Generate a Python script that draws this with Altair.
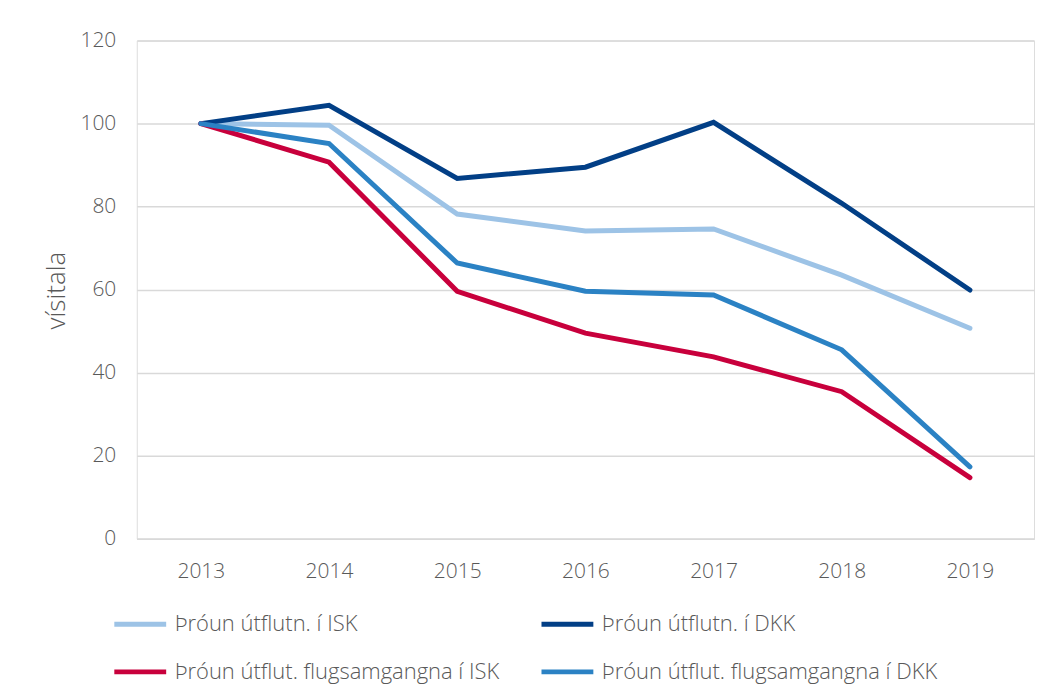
import altair as alt
import pandas as pd

years = ["2013", "2014", "2015", "2016", "2017", "2018", "2019"]
series_names = [
    "Þróun útflutn. í ISK",
    "Þróun útflutn. í DKK",
    "Þróun útflut. flugsamgangna í ISK",
    "Þróun útflut. flugsamgangna í DKK",
]
isk = [100, 99.6, 78.2, 74.1, 74.6, 63.5, 50.7]
dkk = [100, 104.4, 86.8, 89.5, 100.3, 80.8, 59.9]
flug_isk = [100, 90.7, 59.6, 49.5, 43.8, 35.4, 14.7]
flug_dkk = [100, 95.2, 66.4, 59.6, 58.7, 45.5, 17.3]
colors = ["#9DC3E6", "#023F86", "#C8003C", "#2B82C4"]

rows = []
for name, vals in zip(series_names, [isk, dkk, flug_isk, flug_dkk]):
    for i, (y, v) in enumerate(zip(years, vals)):
        rows.append({"year": y, "value": v, "series": name, "order": i})
df = pd.DataFrame(rows)

FONT = "Open Sans"
GRAY = "#595959"

chart = (
    alt.Chart(df)
    .mark_line(strokeWidth=5, strokeCap="round", strokeJoin="miter")
    .encode(
        x=alt.X(
            "year:O",
            title=None,
            sort=years,
            scale=alt.Scale(type="point", padding=0.5),
            axis=alt.Axis(
                labelAngle=0,
                ticks=False,
                domain=True,
                domainColor="#D9D9D9",
                domainWidth=1.5,
                labelPadding=22,
                labelFontSize=21,
                labelColor=GRAY,
                labelFont=FONT,
                labelFontWeight=300,
            ),
        ),
        y=alt.Y(
            "value:Q",
            title="vísitala",
            scale=alt.Scale(domain=[0, 120], nice=False),
            axis=alt.Axis(
                values=[0, 20, 40, 60, 80, 100, 120],
                ticks=False,
                domain=False,
                grid=True,
                gridColor="#D9D9D9",
                gridWidth=1.5,
                labelPadding=21,
                labelFontSize=21,
                labelColor=GRAY,
                labelFont=FONT,
                labelFontWeight=300,
                titleFontSize=26,
                titleColor=GRAY,
                titleFont=FONT,
                titleFontWeight=300,
                titleX=-80,
                titleY=250,
                titleAngle=270,
                titleBaseline="middle",
            ),
        ),
        color=alt.Color(
            "series:N",
            sort=series_names,
            scale=alt.Scale(domain=series_names, range=colors),
            legend=alt.Legend(
                title=None,
                orient="none",
                direction="horizontal",
                legendX=-25,
                legendY=556,
                columns=2,
                symbolType="stroke",
                symbolSize=2700,
                symbolStrokeWidth=5,
                labelFontSize=22,
                labelColor=GRAY,
                labelFont=FONT,
                labelFontWeight=300,
                labelOffset=6,
                columnPadding=31,
                rowPadding=8,
                labelLimit=600,
            ),
        ),
        order="order:Q",
    )
    .properties(
        width=899,
        height=499,
        autosize=alt.AutoSizeParams(type="none"),
        padding={"left": 129, "top": 32, "right": 10, "bottom": 145},
    )
    .configure_view(stroke=None)
    .configure(background="white")
)

chart.save("out.html", embed_options={"renderer": "svg", "actions": False})
